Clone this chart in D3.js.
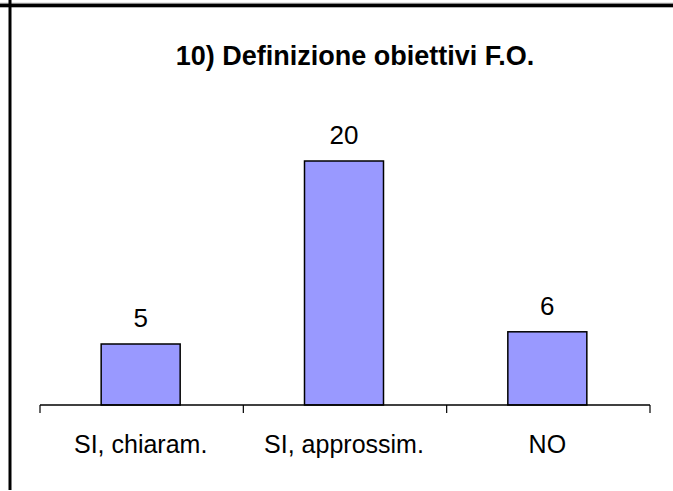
<!DOCTYPE html>
<html><head><meta charset="utf-8">
<script src="https://cdn.jsdelivr.net/npm/d3@7"></script>
<style>body{margin:0;background:#fff}svg{display:block}</style>
</head><body>
<script>
const categories = ["SI, chiaram.", "SI, approssim.", "NO"];
const values = [5, 20, 6];
const title = "10) Definizione obiettivi F.O.";

const W = 673, H = 491;
const FONT = "'Liberation Sans', Arial, sans-serif";
const svg = d3.select("body").append("svg").attr("width", W).attr("height", H);
svg.append("rect").attr("width", W).attr("height", H).attr("fill", "#fff");

// frame lines
svg.append("rect").attr("x", 0).attr("y", 2.8).attr("width", W).attr("height", 1.2).attr("fill", "#888");
svg.append("rect").attr("x", 0).attr("y", 4).attr("width", W).attr("height", 3.3).attr("fill", "#000");
svg.append("rect").attr("x", 8.5).attr("y", 0).attr("width", 3).attr("height", 490).attr("fill", "#000");

const x0 = 40, x1 = 650, yBase = 405;
const x = d3.scaleBand().domain(categories).range([x0, x1]).paddingInner(0).paddingOuter(0);
const y = d3.scaleLinear().domain([0, 20]).range([yBase, 161]);

svg.append("text").attr("x", 355).attr("y", 65).attr("text-anchor", "middle")
  .attr("font-family", FONT).attr("font-weight", "bold")
  .attr("font-size", 27).text(title);

const barW = 79;
svg.selectAll("rect.bar").data(values).enter().append("rect").attr("class", "bar")
  .attr("x", (d, i) => x(categories[i]) + x.bandwidth() / 2 - barW / 2 - 1)
  .attr("y", d => y(d))
  .attr("width", barW).attr("height", d => yBase - y(d))
  .attr("fill", "#9999ff").attr("stroke", "#000").attr("stroke-width", 1.5);

svg.selectAll("text.val").data(values).enter().append("text").attr("class", "val")
  .attr("x", (d, i) => x(categories[i]) + x.bandwidth() / 2 - 1)
  .attr("y", d => y(d) - 17)
  .attr("text-anchor", "middle")
  .attr("font-family", FONT).attr("font-size", 26)
  .text(d => d);

// axis
const axisG = svg.append("g");
axisG.append("line").attr("x1", x0).attr("x2", x1).attr("y1", yBase).attr("y2", yBase)
  .attr("stroke", "#000").attr("stroke-width", 1.5);
const tickPos = categories.map(c => x(c)).concat([x1]);
axisG.selectAll("line.tick").data(tickPos).enter().append("line").attr("class", "tick")
  .attr("x1", d => d).attr("x2", d => d).attr("y1", yBase).attr("y2", yBase + 8)
  .attr("stroke", "#000").attr("stroke-width", 1.2);
axisG.selectAll("text.cat").data(categories).enter().append("text").attr("class", "cat")
  .attr("x", d => x(d) + x.bandwidth() / 2 - 1)
  .attr("y", 453)
  .attr("text-anchor", "middle")
  .attr("font-family", FONT).attr("font-size", 25)
  .text(d => d);
</script>
</body></html>
